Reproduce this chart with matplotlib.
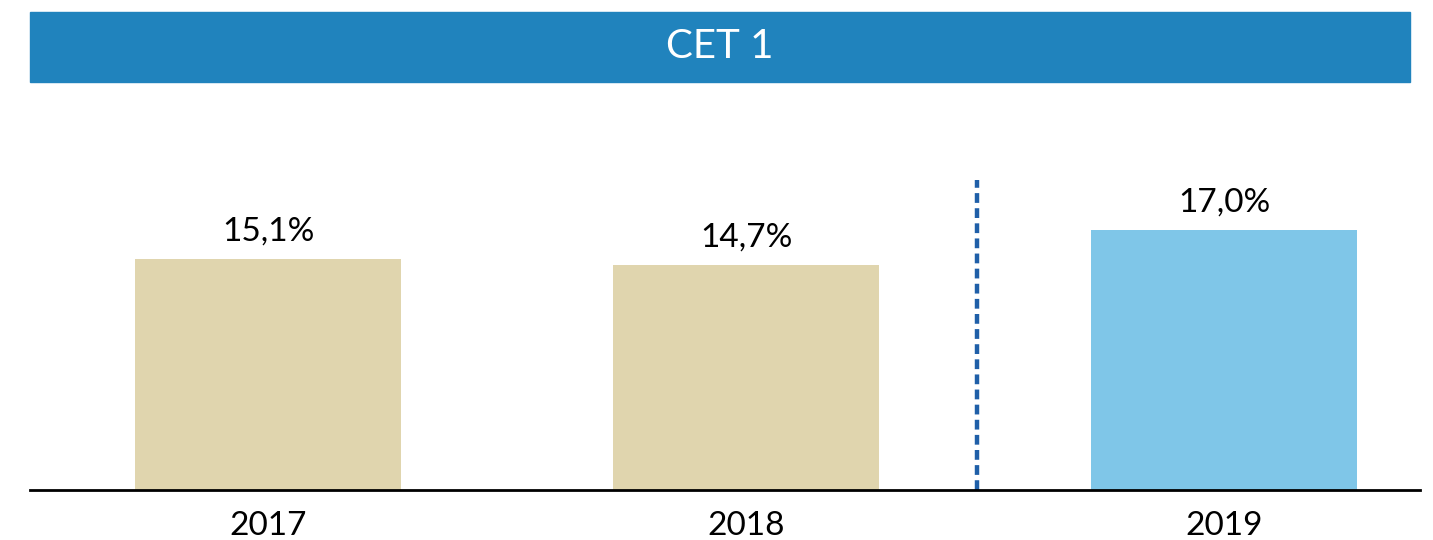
import matplotlib.pyplot as plt
from matplotlib.patches import Rectangle

years = ["2017", "2018", "2019"]
values = [15.1, 14.7, 17.0]
labels = ["15,1%", "14,7%", "17,0%"]
colors = ["#E0D5AE", "#E0D5AE", "#7FC6E8"]

plt.rcParams['font.family'] = ['Lato', 'DejaVu Sans']

fig = plt.figure(figsize=(14.33, 5.4), dpi=100)

# title banner
fig.patches.append(Rectangle((30 / 1433, 458 / 540), 1380 / 1433, 70 / 540,
                             transform=fig.transFigure, color="#2083BD", zorder=0))
fig.text(720 / 1433, 493 / 540, "CET 1", color="white", fontsize=29,
         ha="center", va="center")

ax = fig.add_axes([30 / 1433, 50 / 540, 1390 / 1433, 310 / 540])
x = range(len(years))
ax.bar(x, values, width=0.555, color=colors)
for xi, v, lab in zip(x, values, labels):
    ax.text(xi, v + 0.8, lab, ha="center", va="bottom", fontsize=24)

ax.axvline(1.483, color="#1F5FA8", lw=3.2, linestyle=(0, (2.2, 1.2)))

ax.set_xlim(-0.498, 2.41)
ax.set_ylim(0, 20.26)
ax.set_yticks([])
ax.set_xticks(list(x))
ax.set_xticklabels(years, fontsize=24)
ax.tick_params(axis="x", length=0, pad=15)
for s in ["top", "right", "left"]:
    ax.spines[s].set_visible(False)
ax.spines["bottom"].set_linewidth(2)

fig.savefig("out.png", dpi=100)
